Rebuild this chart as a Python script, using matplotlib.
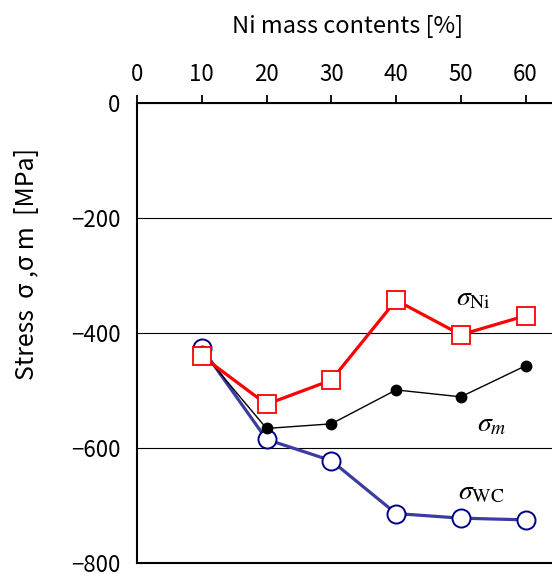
import matplotlib.pyplot as plt

plt.rcParams['font.family'] = ['Noto Sans CJK JP', 'DejaVu Sans']
plt.rcParams['mathtext.fontset'] = 'stix'
plt.rcParams['axes.unicode_minus'] = True

ni_content = [10, 20, 30, 40, 50, 60]
sigma_ni = [-440, -524, -482, -343, -403, -370]
sigma_m = [-432, -566, -558, -499, -511, -457]
sigma_wc = [-426, -585, -622, -714, -722, -725]

fig = plt.figure(figsize=(5.52, 5.80), dpi=100)
ax = fig.add_axes([137/552, 17/580, 421/552, 460/580])

ax.plot(ni_content, sigma_wc, color='#3c3ca0', lw=2.3, marker='o', ms=13,
        mfc='white', mec='#000088', mew=1.4, zorder=3)
ax.plot(ni_content, sigma_m, color='black', lw=1.0, marker='o', ms=7.5,
        mfc='black', mec='black', zorder=4)
ax.plot(ni_content, sigma_ni, color='#ff0000', lw=2.3, marker='s', ms=12.5,
        mfc='white', mec='#ff0000', mew=1.3, zorder=5)

ax.text(52.0, -338, r'$\sigma_{\mathrm{Ni}}$', fontsize=20, ha='center', va='center')
ax.text(54.8, -558, r'$\sigma_{m}$', fontsize=20, ha='center', va='center')
ax.text(53.2, -675, r'$\sigma_{\mathrm{WC}}$', fontsize=20, ha='center', va='center')

ax.set_xlim(0, 65)
ax.set_ylim(-800, 0)
ax.set_xticks([0, 10, 20, 30, 40, 50, 60])
ax.set_yticks([0, -200, -400, -600, -800])
ax.xaxis.tick_top()
ax.xaxis.set_label_position('top')
ax.tick_params(axis='x', direction='out', length=6, width=1.3, labelsize=16, pad=6)
ax.tick_params(axis='y', direction='in', length=0, labelsize=16, pad=12)

ax.grid(axis='y', color='black', lw=0.8)
ax.set_axisbelow(True)
for side in ['left', 'top', 'bottom']:
    ax.spines[side].set_linewidth(1.5)
ax.spines['right'].set_visible(False)

ax.set_xlabel('Ni mass contents [%]', fontsize=17, labelpad=22)
ax.set_ylabel('Stress  σ ,σ m  [MPa]', fontsize=18)
ax.yaxis.set_label_coords(-0.231, 0.65)

fig.savefig('out.png', dpi=100)
